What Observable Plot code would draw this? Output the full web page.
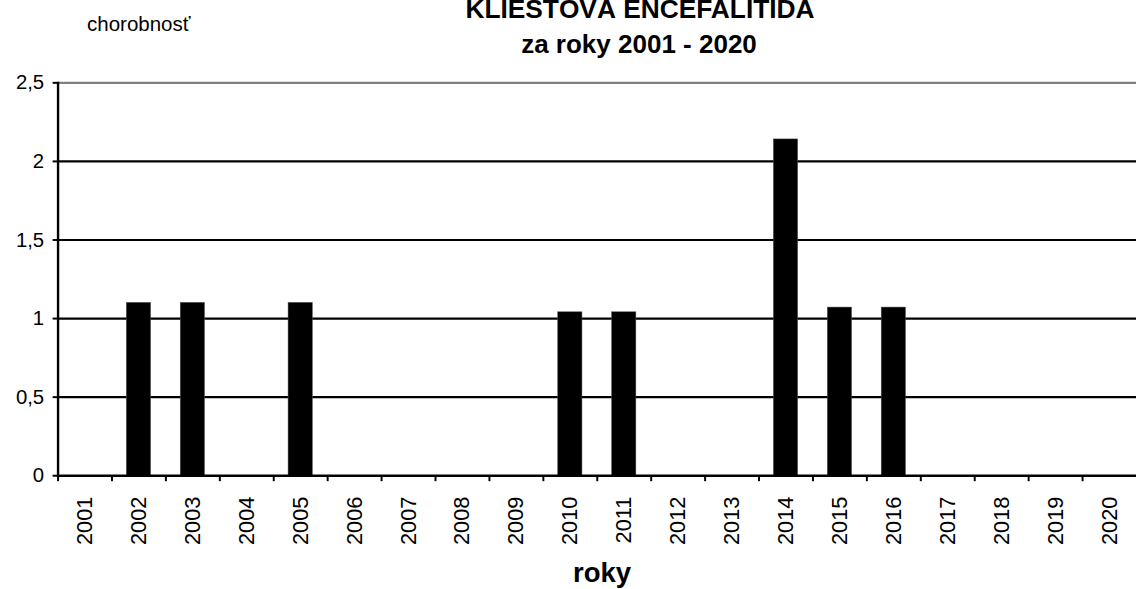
<!DOCTYPE html>
<html>
<head>
<meta charset="utf-8">
<script src="https://cdn.jsdelivr.net/npm/d3@7"></script>
<script src="https://cdn.jsdelivr.net/npm/@observablehq/plot@0.6"></script>
<style>
  html, body { margin: 0; padding: 0; background: #fff; overflow: hidden; }
  #wrap { position: relative; width: 1137px; height: 589px; overflow: hidden; font-family: "Liberation Sans", Arial, sans-serif; color: #000; }
  .lbl { position: absolute; white-space: nowrap; line-height: 1; }
  #chart { position: absolute; left: 0; top: 0; }
</style>
</head>
<body>
<div id="wrap">
  <div id="chart"></div>
  <div class="lbl" id="title" style="left:640px; top:-4px; transform:translateX(-50%); font-size:26.3px; font-weight:bold;">KLIEŠŤOVÁ ENCEFALITÍDA</div>
  <div class="lbl" id="subtitle" style="left:639px; top:31px; transform:translateX(-50%); font-size:26px; font-weight:bold;">za roky 2001 - 2020</div>
  <div class="lbl" id="ylab" style="left:87px; top:14px; font-size:20.5px;">chorobnosť</div>
  <div class="lbl" id="xlab" style="left:602px; top:559px; transform:translateX(-50%); font-size:27.5px; font-weight:bold;">roky</div>
</div>
<script>
const years = ["2001","2002","2003","2004","2005","2006","2007","2008","2009","2010",
               "2011","2012","2013","2014","2015","2016","2017","2018","2019","2020"];
const values = [0, 1.10, 1.10, 0, 1.10, 0, 0, 0, 0, 1.04,
                1.04, 0, 0, 2.14, 1.07, 1.07, 0, 0, 0, 0];
const yTicks = [0, 0.5, 1, 1.5, 2, 2.5];
const gridTicks = [0.5, 1, 1.5, 2];
const topTick = [2.5];

const data = years.map((y, i) => ({year: y, value: values[i]}));

const W = 1146, ML = 58, MR = 1;
const step = (W - ML - MR) / years.length;

const chart = Plot.plot({
  width: W,
  height: 589,
  marginLeft: ML,
  marginRight: MR,
  marginTop: 83,
  marginBottom: 110,
  style: {fontFamily: "'Liberation Sans', Arial, sans-serif", fontSize: "20.5px", color: "#000", background: "transparent", overflow: "visible"},
  x: {type: "band", domain: years, paddingInner: 0.55, paddingOuter: 0.275, align: 0.5, round: false},
  y: {domain: [0, 2.5]},
  marks: [
    Plot.ruleY(gridTicks, {stroke: "#000", strokeWidth: 2.2}),
    Plot.ruleY(topTick, {stroke: "#808080", strokeWidth: 2.2}),
    Plot.barY(data, {x: "year", y: "value", fill: "#000", stroke: "#555", strokeWidth: 0.5}),
    Plot.ruleY([0], {stroke: "#000", strokeWidth: 2.4}),
    Plot.frame({anchor: "left", stroke: "#000", strokeWidth: 2.4}),
    Plot.axisY({ticks: yTicks, tickSize: 5, tickPadding: 9, tickFormat: d => String(d).replace(".", ","), label: null, strokeWidth: 2}),
    Plot.axisX({tickSize: 6, dx: -step / 2, tickFormat: () => "", label: null, strokeWidth: 2}),
    Plot.axisX({tickSize: 0, tickPadding: 21, tickRotate: -90, label: null, fontSize: 22})
  ]
});
document.getElementById("chart").appendChild(chart);
</script>
</body>
</html>
